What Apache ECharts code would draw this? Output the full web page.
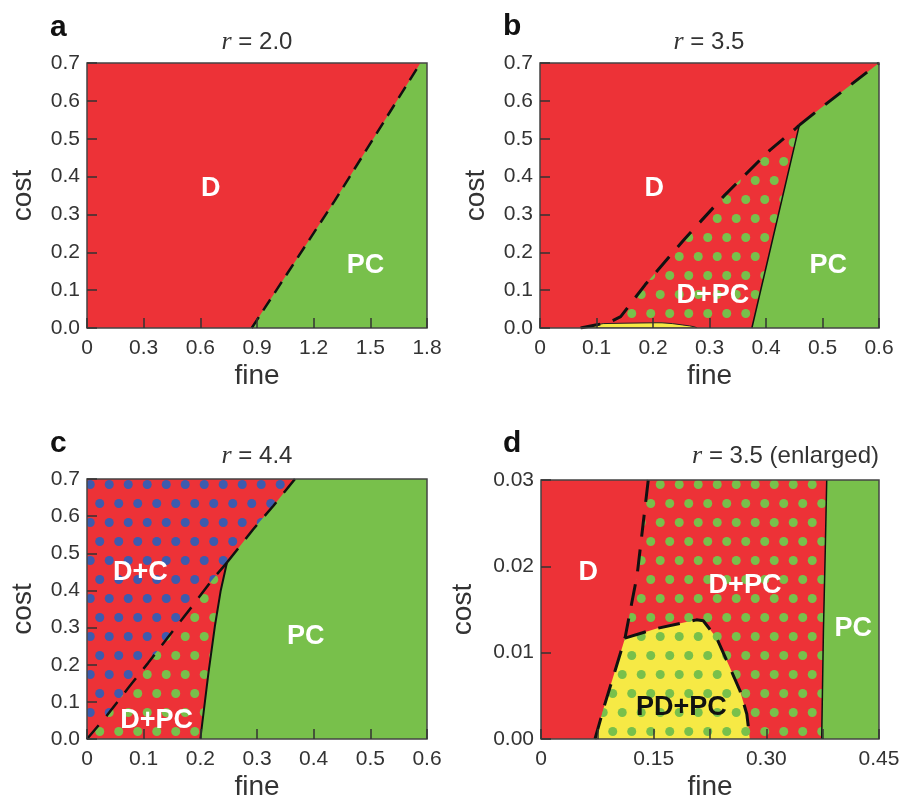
<!DOCTYPE html>
<html><head><meta charset="utf-8">
<script src="https://cdn.jsdelivr.net/npm/echarts@6/dist/echarts.min.js"></script>
<style>html,body{margin:0;padding:0;background:#fff}#c{width:904px;height:802px}</style>
</head><body><div id="c"></div>
<script>
// ---------- data ----------
// axis ranges / ticks
const xRangeA = [0, 1.8], xStepA = 0.3;
const xRangeB = [0, 0.6], xStepB = 0.1;
const xRangeC = [0, 0.6], xStepC = 0.1;
const xRangeD = [0, 0.45], xStepD = 0.15;
const yRangeABC = [0, 0.7], yStepABC = 0.1;
const yRangeD = [0, 0.03], yStepD = 0.01;
const titles = ['r = 2.0', 'r = 3.5', 'r = 4.4', 'r = 3.5 (enlarged)'];
const panelLetters = ['a', 'b', 'c', 'd'];

// panel a : D / PC boundary
const aBoundary = [[0.872, 0], [1.31, 0.335], [1.765, 0.7]];

// panel b (r = 3.5)
const bLowerDashed = [[0.0719, 0], [0.085, 0.004], [0.0985, 0.0079], [0.1118, 0.0117], [0.128, 0.019], [0.1428, 0.03],
  [0.186, 0.114], [0.254, 0.232], [0.327, 0.351], [0.407, 0.47], [0.451, 0.525], [0.459, 0.536]];
const bUpperDashed = [[0.459, 0.536], [0.496, 0.58], [0.6, 0.7]];
const bSolid = [[0.375, 0], [0.428, 0.338], [0.459, 0.536]];

// PD+PC region for r = 3.5 (panels b and d)
const pdpcLeft = [[0.0719, 0], [0.085, 0.00404], [0.0985, 0.00787], [0.1118, 0.01168]];
const pdpcTop = [[0.1118, 0.01168], [0.154, 0.0128], [0.207, 0.0138], [0.216, 0.0137], [0.234, 0.01168],
  [0.2516, 0.00824], [0.265, 0.00557], [0.274, 0.0029], [0.278, 0]];

// panel d (enlarged)
const dDashedTop = [[0.1428, 0.03], [0.128, 0.019], [0.1118, 0.01168]];
const dSolid = [[0.3737, 0], [0.376, 0.0125], [0.3785, 0.022], [0.3804, 0.03]];

// panel c (r = 4.4)
const cLowerDashed = [[0, 0], [0.035, 0.063], [0.073, 0.138], [0.108, 0.205], [0.146, 0.28], [0.185, 0.356], [0.22, 0.427], [0.247, 0.475]];
const cUpperDashed = [[0.247, 0.475], [0.293, 0.564], [0.329, 0.628], [0.367, 0.7]];
const cSolid = [[0.2, 0], [0.214, 0.174], [0.226, 0.307], [0.236, 0.4], [0.247, 0.475]];

// region labels
const aLabels = [['D', 0.655, 0.369], ['PC', 1.475, 0.165]];
const bLabels = [['D', 0.202, 0.369], ['PC', 0.51, 0.165], ['D+PC', 0.306, 0.087]];
const cLabels = [['D+C', 0.094, 0.449], ['D+PC', 0.123, 0.05], ['PC', 0.386, 0.276]];
const dLabels = [['D', 0.063, 0.0193], ['D+PC', 0.2716, 0.0178], ['PC', 0.4158, 0.0128], ['PD+PC', 0.187, 0.0037]];

// ---------- styles ----------
const RED = '#ED3237', GREEN = '#78C04B', YELLOW = '#F6E945', BLUE = '#3D5BAE';
const FONT = 'Liberation Sans, Arial, Helvetica, sans-serif';

function dotPattern(bg, dot) {
  const c = document.createElement('canvas');
  c.width = 19; c.height = 38;
  const g = c.getContext('2d');
  g.fillStyle = bg; g.fillRect(0, 0, 19, 38);
  g.fillStyle = dot;
  [[4.75, 9.5], [14.25, 28.5]].forEach(p => { g.beginPath(); g.arc(p[0], p[1], 4.5, 0, Math.PI * 2); g.fill(); });
  return { image: c, repeat: 'repeat' };
}
const RED_GREEN = dotPattern(RED, GREEN);
const RED_BLUE = dotPattern(RED, BLUE);
const YELLOW_GREEN = dotPattern(YELLOW, GREEN);

const rect = (xr, yr) => [[xr[0], yr[0]], [xr[1], yr[0]], [xr[1], yr[1]], [xr[0], yr[1]]];

function poly(gi, pts, fill, stroke, lw) {
  return {
    type: 'custom', xAxisIndex: gi, yAxisIndex: gi, data: pts, z: 2, silent: true, clip: true,
    renderItem: (params, api) => {
      if (params.dataIndex !== 0) return null;
      return {
        type: 'polygon',
        shape: { points: pts.map(p => api.coord(p)) },
        style: { fill: fill, stroke: stroke || null, lineWidth: lw || 0 }
      };
    }
  };
}
function line(gi, pts, dash, width) {
  return {
    type: 'line', xAxisIndex: gi, yAxisIndex: gi, data: pts, symbol: 'none', z: 4, silent: true,
    lineStyle: { color: '#111', width: width, type: dash || 'solid' }
  };
}
// region names drawn as text marks at data coordinates
function labelSeries(gi, arr) {
  return {
    type: 'custom', xAxisIndex: gi, yAxisIndex: gi, z: 6, silent: true, clip: false,
    data: arr.map(l => [l[1], l[2]]),
    renderItem: (params, api) => {
      const p = api.coord([api.value(0), api.value(1)]);
      const name = arr[params.dataIndex][0];
      return {
        type: 'text', x: p[0], y: p[1],
        style: {
          text: name, align: 'center', verticalAlign: 'middle',
          fontSize: 27, fontWeight: 'bold', fontFamily: FONT,
          fill: name === 'PD+PC' ? '#111' : '#ffffff'
        }
      };
    }
  };
}

const grids = [
  { left: 87, top: 63, width: 340, height: 265 },
  { left: 540, top: 63, width: 339, height: 265 },
  { left: 87, top: 479, width: 340, height: 263 },
  { left: 541, top: 480, width: 338, height: 262 }
].map(g => Object.assign(g, { show: true, borderColor: '#444', borderWidth: 1.5, backgroundColor: 'transparent', z: 10 }));

function fmtX(dec) { return v => (Math.abs(v) < 1e-9 ? '0' : v.toFixed(dec)); }
function xAxis(gi, range, step, dec, minor) {
  return {
    type: 'value', gridIndex: gi, min: range[0], max: range[1], interval: step, z: 10,
    name: 'fine', nameLocation: 'middle', nameGap: 34,
    nameTextStyle: { fontSize: 28, color: '#333', fontFamily: FONT },
    axisLine: { show: false }, splitLine: { show: false },
    axisTick: { show: true, inside: true, length: 10, lineStyle: { color: '#333', width: 1.5 } },
    minorTick: minor ? { show: true, splitNumber: 2, length: 10, lineStyle: { color: '#333', width: 1.5 } } : { show: false },
    axisLabel: { color: '#333', fontSize: 21, fontFamily: FONT, margin: 10, formatter: fmtX(dec) }
  };
}
function yAxis(gi, range, step, dec, gap) {
  return {
    type: 'value', gridIndex: gi, min: range[0], max: range[1], interval: step, z: 10,
    name: 'cost', nameLocation: 'middle', nameGap: gap,
    nameTextStyle: { fontSize: 28, color: '#333', fontFamily: FONT },
    axisLine: { show: false }, splitLine: { show: false },
    axisTick: { show: true, inside: true, length: 10, lineStyle: { color: '#333', width: 1.5 } },
    axisLabel: { color: '#333', fontSize: 21, fontFamily: FONT, margin: 7, formatter: v => v.toFixed(dec) }
  };
}

const rev = a => a.slice().reverse();
const series = [
  // a
  poly(0, rect(xRangeA, yRangeABC), RED),
  poly(0, [...aBoundary, [xRangeA[1], yRangeABC[1]], [xRangeA[1], yRangeABC[0]]], GREEN),
  line(0, aBoundary, [13, 8], 2.5),
  labelSeries(0, aLabels),
  // b
  poly(1, rect(xRangeB, yRangeABC), RED),
  poly(1, [...bLowerDashed, ...rev(bSolid)], RED_GREEN),
  poly(1, [...bSolid, ...bUpperDashed.slice(1), [xRangeB[1], yRangeABC[0]]], GREEN),
  poly(1, [...pdpcLeft, ...pdpcTop.slice(1)], YELLOW, '#222', 1),
  line(1, bLowerDashed, [20, 13], 3),
  line(1, bUpperDashed, [20, 13], 3),
  line(1, bSolid, 'solid', 1.5),
  labelSeries(1, bLabels),
  // c
  poly(2, rect(xRangeC, yRangeABC), RED_BLUE),
  poly(2, [...cLowerDashed, ...rev(cSolid)], RED_GREEN),
  poly(2, [...cSolid, ...cUpperDashed.slice(1), [xRangeC[1], yRangeABC[1]], [xRangeC[1], yRangeABC[0]]], GREEN),
  line(2, cLowerDashed, [18, 12], 2.5),
  line(2, cUpperDashed, [18, 12], 2.5),
  line(2, cSolid, 'solid', 2),
  labelSeries(2, cLabels),
  // d
  poly(3, rect(xRangeD, yRangeD), RED),
  poly(3, [...dDashedTop, ...rev(pdpcLeft), ...dSolid], RED_GREEN),
  poly(3, [...pdpcLeft, ...pdpcTop.slice(1)], YELLOW_GREEN),
  poly(3, [...dSolid, [xRangeD[1], yRangeD[1]], [xRangeD[1], yRangeD[0]]], GREEN),
  line(3, dDashedTop, [22, 13], 3),
  line(3, [...pdpcLeft, ...pdpcTop.slice(1)], [22, 13], 3),
  line(3, dSolid, 'solid', 1.5),
  labelSeries(3, dLabels)
];

const titlePos = [[257, 42, 'center'], [709, 42, 'center'], [257, 456, 'center'], [879, 456, 'right']];
const letterPos = [[50, 28], [503, 27], [50, 444], [503, 444]];
const graphic = [];
titles.forEach((t, i) => {
  graphic.push({
    type: 'text', z: 100, silent: true,
    style: {
      text: '{i|r}' + t.slice(1), x: titlePos[i][0], y: titlePos[i][1],
      align: titlePos[i][2], verticalAlign: 'middle',
      fontSize: 24, fontFamily: FONT, fill: '#333',
      rich: { i: { fontFamily: 'Liberation Serif, Times New Roman, serif', fontStyle: 'italic', fontSize: 26, fill: '#333' } }
    }
  });
});
panelLetters.forEach((t, i) => {
  graphic.push({
    type: 'text', z: 100, silent: true,
    style: { text: t, x: letterPos[i][0], y: letterPos[i][1], align: 'left', verticalAlign: 'middle',
      fontSize: 30, fontWeight: 'bold', fontFamily: FONT, fill: '#111' }
  });
});

const chart = echarts.init(document.getElementById('c'), null, { renderer: 'canvas' });
chart.setOption({
  animation: false,
  backgroundColor: '#fff',
  grid: grids,
  xAxis: [xAxis(0, xRangeA, xStepA, 1), xAxis(1, xRangeB, xStepB, 1), xAxis(2, xRangeC, xStepC, 1), xAxis(3, xRangeD, xStepD, 2, true)],
  yAxis: [yAxis(0, yRangeABC, yStepABC, 1, 50), yAxis(1, yRangeABC, yStepABC, 1, 50), yAxis(2, yRangeABC, yStepABC, 1, 50), yAxis(3, yRangeD, yStepD, 2, 64)],
  graphic: graphic,
  series: series
});
</script></body></html>
